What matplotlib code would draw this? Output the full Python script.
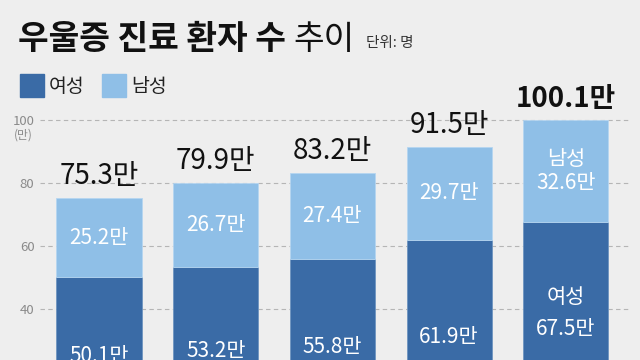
import matplotlib.pyplot as plt
from matplotlib.patches import Rectangle
import numpy as np

# data (만 명)
years = ['2017', '2018', '2019', '2020', '2021']
female = [50.1, 53.2, 55.8, 61.9, 67.5]
male = [25.2, 26.7, 27.4, 29.7, 32.6]
total = [75.3, 79.9, 83.2, 91.5, 100.1]
yticks = [40, 60, 80, 100]

dark = '#3a6ba6'
light = '#8fbfe7'
bg = '#eeeeee'
kr = ['Noto Sans CJK KR', 'DejaVu Sans']

fig = plt.figure(figsize=(6.4, 3.6), dpi=100, facecolor=bg)
ax = fig.add_axes([40 / 640, 0, 590 / 640, 250 / 360], facecolor=bg)

x = np.arange(len(years))
ax.bar(x, female, width=0.73, color=dark, edgecolor='#6f95c0', linewidth=0.6, zorder=2)
ax.bar(x, male, bottom=female, width=0.73, color=light, edgecolor='#b5d5f0', linewidth=0.6, zorder=2)

ax.set_xlim(-0.506, 4.55)
ax.set_ylim(23.8, 103.2)
ax.set_xticks([])
ax.set_yticks(yticks)
ax.set_yticklabels([str(v) for v in yticks], family=kr, fontsize=9.5, color='#8a8a8a')
ax.tick_params(axis='y', length=0, pad=4)
ax.yaxis.grid(True, linestyle=(0, (4, 3)), color='#b5b5b5', linewidth=0.8)
ax.set_axisbelow(True)
for s in ax.spines.values():
    s.set_visible(False)
ax.text(-0.012, 100 - 2.6, '(만)', transform=ax.get_yaxis_transform(), ha='right', va='top',
        family=kr, fontsize=8.5, color='#8a8a8a')

# labels
last = len(years) - 1
for i in x:
    ax.annotate(f'{total[i]}만', (i, total[i]), xytext=(0, 5), textcoords='offset points',
                ha='center', va='bottom', family=kr, fontsize=20,
                fontweight='bold' if i == last else 'normal', color='#111111',
                annotation_clip=False)
    mid_m = female[i] + male[i] / 2
    mid_f = female[i] / 2
    if i == last:
        ax.text(i, mid_m, f'남성\n{male[i]}만', ha='center', va='center', family=kr,
                fontsize=15, color='white', linespacing=1.15, zorder=3)
        ax.text(i, mid_f, f'{female[i]}만', ha='center', va='center', family=kr,
                fontsize=15, color='white', zorder=3)
        ax.text(i, mid_f + 10, '여성', ha='center', va='center', family=kr,
                fontsize=15, color='white', zorder=3)
    else:
        ax.text(i, mid_m, f'{male[i]}만', ha='center', va='center', family=kr,
                fontsize=15, color='white', zorder=3)
        ax.text(i, mid_f, f'{female[i]}만', ha='center', va='center', family=kr,
                fontsize=15, color='white', zorder=3, clip_on=True)

# title
t = fig.text(18 / 640, 1 - 39 / 360, '우울증 진료 환자 수 ', family=kr, fontsize=24,
             fontweight='bold', color='#111111', va='center')
fig.canvas.draw()
bb = t.get_window_extent()
t2 = fig.text(bb.x1 / 640, 1 - 39 / 360, '추이', family=kr, fontsize=24,
              color='#111111', va='center')
fig.canvas.draw()
bb2 = t2.get_window_extent()
fig.text(bb2.x1 / 640 + 0.018, 1 - 43 / 360, '단위: 명', family=kr, fontsize=10.5,
         color='#333333', va='center')

# legend
for lx, col, lab in [(20, dark, '여성'), (102, light, '남성')]:
    fig.patches.append(Rectangle((lx / 640, 1 - 97 / 360), 24 / 640, 23 / 360,
                                 transform=fig.transFigure, color=col))
    fig.text((lx + 29) / 640, 1 - 86 / 360, lab, family=kr, fontsize=14,
             color='#222222', va='center')

fig.savefig('out.png', dpi=100, facecolor=bg)
